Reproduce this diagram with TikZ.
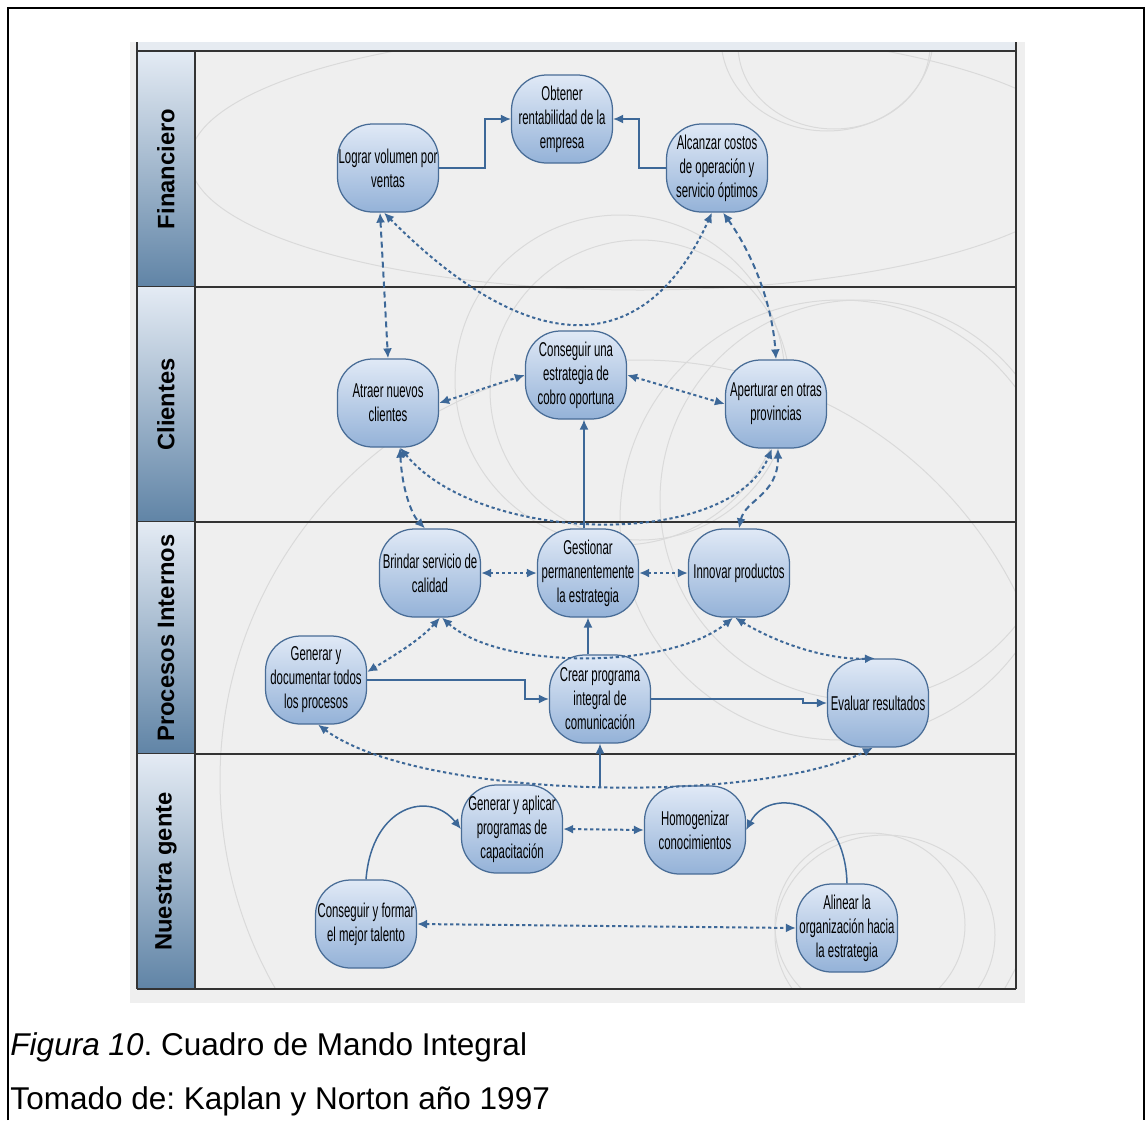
\documentclass[tikz,border=0pt]{standalone}
\usepackage{fontspec}
\setmainfont{Liberation Sans}
\newfontfamily\nodefont[FakeStretch=0.57]{Liberation Sans}
\usetikzlibrary{arrows.meta,calc}
\frenchspacing
\definecolor{bscBlue}{RGB}{61,104,152}
\definecolor{bscBorder}{RGB}{72,108,150}
\definecolor{bscNodeTop}{RGB}{224,233,246}
\definecolor{bscNodeBot}{RGB}{148,178,216}
\definecolor{bscBack}{RGB}{239,239,239}
\definecolor{bscHead}{RGB}{230,235,241}
\definecolor{bscLaneTop}{RGB}{228,235,244}
\definecolor{bscLaneBot}{RGB}{96,132,166}
\definecolor{bscRing}{RGB}{218,218,218}
\tikzset{
  goal/.style={rectangle, rounded corners=14pt, draw=bscBorder, line width=0.5pt,
               top color=bscNodeTop, bottom color=bscNodeBot, align=center,
               minimum width=40.4pt, minimum height=35.2pt, inner sep=0.3pt,
               font=\nodefont\fontsize{8}{9.6}\selectfont},
  lane/.style={draw=black!80, line width=0.9pt},
  lanelabel/.style={rotate=90, font=\bfseries\fontsize{9.5}{11}\selectfont},
  ring/.style={draw=bscRing, line width=0.4pt},
  caption/.style={anchor=base west, inner sep=0pt, font=\fontsize{12.6}{15}\selectfont},
  arrow/.style={->, >={Latex[length=4pt,width=3.6pt]}, line width=0.6pt, draw=bscBlue},
  dotarrow/.style={<->, >={Latex[length=4pt,width=3.6pt]}, line width=0.8pt, draw=bscBlue,
                   dash pattern=on 1.3pt off 1.1pt},
  dasharrow/.style={dotarrow, dash pattern=on 2.4pt off 1.6pt}
}
\begin{document}
\begin{tikzpicture}[x=0.4pt, y=-0.4pt]
\useasboundingbox (0,0) rectangle (1145,1120);
\draw[line width=0.5pt] (8,1120) -- (8,8) -- (1144,8) -- (1144,1120);
\fill[bscBack] (130,42) rectangle (1025,1003);
\fill[bscHead] (137,42) rectangle (1016,51);
\begin{scope}
\clip (195,51) rectangle (1016,989);
\foreach \cx/\cy/\rx/\ry in {827/38/106/93, 834/45/96/84, 885/935/110/100, 870/925/95/92,
    640/160/450/130, 620/380/165/165, 640/390/150/150, 640/780/420/420,
    840/520/220/220, 860/500/200/200}
  \draw[ring] (\cx,\cy) ellipse [x radius=\rx, y radius=\ry];
\end{scope}
\foreach \ya/\yb/\lname [count=\k] in {51/287/Financiero, 287/522/Clientes,
    522/754/Procesos Internos, 754/989/Nuestra gente}{
  \shade[top color=bscLaneTop, bottom color=bscLaneBot] (137,\ya) rectangle (195,\yb);
  \node[lanelabel] (lane\k) at (166,{(\ya+\yb)/2}) {\lname};
  \draw[lane] (137,\yb) -- (1016,\yb);
}
\draw[lane] (137,42) -- (137,989) (195,51) -- (195,989) (1016,42) -- (1016,989);
\draw[lane] (137,51) -- (1016,51);

\node[goal] (obtener) at (562,119) {Obtener\\rentabilidad de la\\empresa};
\node[goal] (lograr) at (388,168) {Lograr volumen por\\ventas};
\node[goal] (alcanzar) at (717,168) {Alcanzar costos\\de operación y\\servicio óptimos};
\node[goal] (atraer) at (388,403) {Atraer nuevos\\clientes};
\node[goal] (cobro) at (576,375) {Conseguir una\\estrategia de\\cobro oportuna};
\node[goal] (apertura) at (776,404) {Aperturar en otras\\provincias};
\node[goal] (brindar) at (430,573) {Brindar servicio de\\calidad};
\node[goal] (gestionar) at (588,573) {Gestionar\\permanentemente\\la estrategia};
\node[goal] (innovar) at (739,573) {Innovar productos};
\node[goal] (documentar) at (316,680) {Generar y\\documentar todos\\los procesos};
\node[goal] (crear) at (600,699) {Crear programa\\integral de\\comunicación};
\node[goal] (evaluar) at (878,703) {Evaluar resultados};
\node[goal] (capacitar) at (512,829) {Generar y aplicar\\programas de\\capacitación};
\node[goal] (homog) at (695,830) {Homogenizar\\conocimientos};
\node[goal] (talento) at (366,924) {Conseguir y formar\\el mejor talento};
\node[goal] (alinear) at (847,928) {Alinear la\\organización hacia\\la estrategia};

\coordinate (gtop) at ($(gestionar.north)+(-4,0)$);
\coordinate (crearin) at (600,788);
\draw[arrow] (lograr.east) -- ++(46,0) |- (obtener.west);
\draw[arrow] (alcanzar.west) -- ++(-27,0) |- (obtener.east);
\draw[arrow] (gtop) -- (gtop |- cobro.south);
\draw[arrow] (gestionar.south |- crear.north) -- (gestionar.south);
\draw[arrow] (documentar.east) -- ++(158,0) |- (crear.west);
\draw[arrow] (crear.east) -- ++(152,0) |- (evaluar.west);
\draw[arrow] (crearin) -- (crear.south);
\draw[arrow] (talento.north) .. controls (372,805) and (430,790) .. (capacitar.west);
\draw[arrow] (alinear.north) .. controls (845,800) and (770,785) .. (homog.east);

\draw[dasharrow] ($(lograr.south)+(-8,0)$) -- (atraer.north);
\draw[dotarrow] ($(lograr.south)+(-4,0)$) .. controls (520,350) and (640,370) .. ($(alcanzar.south)+(-5,0)$);
\draw[dasharrow] ($(alcanzar.south)+(6,0)$) .. controls (750,250) and (772,300) .. (apertura.north);
\draw[dotarrow] (atraer.east) -- (cobro.west);
\draw[dotarrow] (cobro.east) -- (apertura.west);
\draw[dasharrow] ($(atraer.south)+(12,0)$) .. controls (402,490) and (412,515) .. ($(brindar.north)+(-5,0)$);
\draw[dotarrow] ($(atraer.south)+(12,0)$) .. controls (480,545) and (730,550) .. ($(apertura.south)+(-4,0)$);
\draw[dasharrow] (innovar.north) .. controls (745,500) and (778,495) .. ($(apertura.south)+(2,0)$);
\draw[dotarrow] (brindar.east) -- (gestionar.west);
\draw[dotarrow] (gestionar.east) -- (innovar.west);
\draw[dotarrow] ($(brindar.south)+(10,0)$) .. controls (420,640) and (395,655) .. ($(documentar.east)+(0,-8)$);
\draw[dotarrow] ($(brindar.south)+(12,0)$) .. controls (500,670) and (670,670) .. ($(innovar.south)+(-6,0)$);
\draw[dotarrow] ($(innovar.south)+(-4,0)$) .. controls (780,645) and (830,660) .. ($(evaluar.north)+(-3,0)$);
\draw[dotarrow] ($(documentar.south)+(2,0)$) .. controls (420,800) and (760,805) .. ($(evaluar.south)+(-5,0)$);
\draw[dotarrow] (capacitar.east) -- (homog.west);
\draw[dotarrow] (talento.east) -- (alinear.west);

\node[caption] (figcap) at (10,1055) {\textit{Figura 10}. Cuadro de Mando Integral};
\node[caption] (source) at (10,1109) {Tomado de: Kaplan y Norton año 1997};
\end{tikzpicture}
\end{document}
